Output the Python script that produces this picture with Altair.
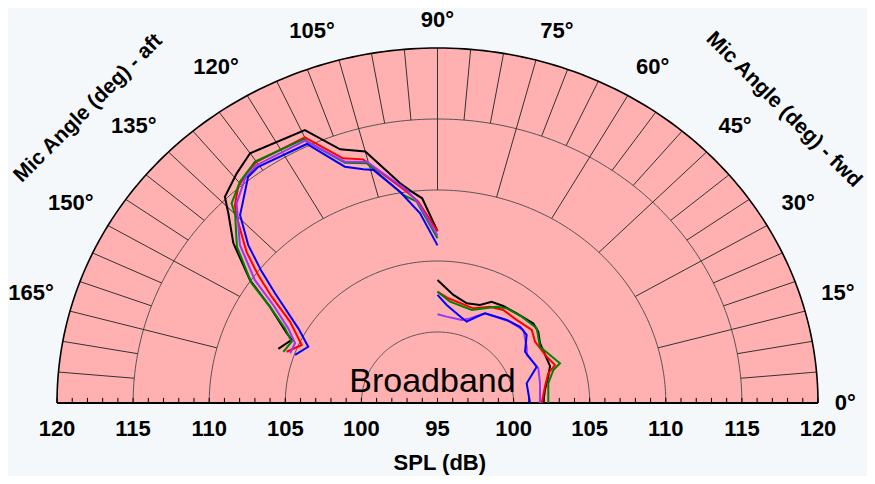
import math
import altair as alt
import pandas as pd

# ---------------- data (angle in degrees, SPL in dB) ----------------
CENTER_SPL = 95
MAX_SPL = 120

series_names = ["black", "red", "green", "purple", "blue"]
series_colors = ["#000000", "#ff0000", "#008000", "#9933ff", "#0000ff"]

# aft branch (90 -> 160 deg)
aft_angle_black = [90, 94, 96.5, 99, 105, 109.7, 114.4, 125, 129.2, 133.9, 135.8, 140, 144.9, 148.4, 153.6, 155.1, 160]
aft_spl_black = [107.1, 109.45, 109.98, 110.67, 113.33, 113.98, 116.1, 116.47, 115.87, 115.15, 114.17, 112.51, 110.06, 107.92, 106.06, 105.56, 106.13]

aft_angle_red = [90, 95.1, 97.7, 105.9, 109.8, 115, 125, 127.8, 130.7, 133.7, 135.2, 139.7, 142.6, 145.5, 149.4, 155.4, 160]
aft_spl_red = [107.1, 109.23, 110.02, 112.84, 113.31, 115.64, 115.73, 115.47, 115.08, 114.27, 113.6, 111.45, 109.83, 108.22, 106.26, 104.81, 105.55]

aft_angle_green = [90, 95.5, 98.7, 105.4, 109.75, 115.4, 125.2, 129.8, 133.9, 135.1, 140.1, 145.4, 148.4, 152.3, 155.7, 160.4]
aft_spl_green = [106.6, 109.24, 109.82, 112.51, 112.98, 115.56, 115.8, 115.28, 114.51, 113.77, 112.18, 109.84, 107.92, 106.32, 105.51, 105.75]

aft_angle_purple = [90, 95.1, 97.7, 105.3, 109.7, 115.2, 125.3, 128.6, 133.2, 139.4, 144.2, 147.4, 151.8, 155.8, 160.1]
aft_spl_purple = [106.8, 109.12, 110.14, 112.62, 113.05, 115.42, 115.54, 115.26, 114.28, 112.1, 109.79, 107.81, 106.12, 105.26, 105.3]

aft_angle_blue = [90, 94.9, 99.4, 104.4, 106.5, 110.1, 115.2, 125.3, 128, 132.9, 134.4, 138.2, 141.3, 144.1, 150.1, 155, 160.1]
aft_spl_blue = [106.1, 108.41, 110.08, 111.94, 112.17, 112.72, 115.16, 115.38, 115.21, 113.88, 113.54, 111.68, 109.8, 108.18, 105.55, 104.37, 104.95]

# fwd branch (90 -> 0 deg)
fwd_angle_black = [90, 82.2, 74.7, 68, 63.5, 57.7, 50.5, 41.7, 37.2, 32, 19.4, 14.3, 7.4, 0]
fwd_spl_black = [103.66, 102.68, 102.28, 102.44, 102.97, 103.08, 103.18, 103.43, 103.31, 102.94, 102.84, 102.51, 102.12, 101.95]

fwd_angle_red = [90, 84.5, 70.6, 63, 56.6, 48.4, 39.7, 34, 24.4, 19.1, 16, 9.2, 0]
fwd_spl_red = [102.84, 102.41, 102.07, 102.61, 102.85, 102.83, 103.05, 102.73, 102.88, 103.17, 102.57, 102.15, 101.85]

fwd_angle_green = [90, 83.4, 71, 60.2, 55.7, 47.7, 38.9, 30.5, 19.2, 17, 10.8, 0]
fwd_spl_green = [102.84, 102.18, 101.93, 102.82, 103.07, 103.22, 103.38, 102.81, 103.52, 102.96, 102.41, 102.28]

fwd_angle_purple = [90, 84.4, 74.8, 70.3, 63.7, 50.3, 42.3, 34, 30, 20.3, 11.7, 0]
fwd_spl_purple = [101.25, 101.11, 101.06, 101.33, 102.05, 102.45, 102.63, 102.07, 101.77, 102.06, 101.88, 101.73]

fwd_angle_blue = [90, 85, 77.5, 71.5, 67, 63.7, 52.1, 44.7, 39.3, 32.1, 21.4, 13.3, 0]
fwd_spl_blue = [102.61, 101.93, 101.35, 101.04, 101.6, 102.05, 102.41, 102.63, 102.57, 101.79, 102.0, 101.02, 101.08]

spl_tick_labels = [120, 115, 110, 105, 100, 95, 100, 105, 110, 115, 120]
angle_ticks = [0, 15, 30, 45, 60, 75, 90, 105, 120, 135, 150, 165]

aft_data = {
    "black": (aft_angle_black, aft_spl_black),
    "red": (aft_angle_red, aft_spl_red),
    "green": (aft_angle_green, aft_spl_green),
    "purple": (aft_angle_purple, aft_spl_purple),
    "blue": (aft_angle_blue, aft_spl_blue),
}
fwd_data = {
    "black": (fwd_angle_black, fwd_spl_black),
    "red": (fwd_angle_red, fwd_spl_red),
    "green": (fwd_angle_green, fwd_spl_green),
    "purple": (fwd_angle_purple, fwd_spl_purple),
    "blue": (fwd_angle_blue, fwd_spl_blue),
}

RMAX = MAX_SPL - CENTER_SPL


def polar(r, deg):
    t = math.radians(deg)
    return r * math.cos(t), r * math.sin(t)


# ---------------- derived tables ----------------
rows = []
for name in series_names:
    for branch, src in (("aft", aft_data), ("fwd", fwd_data)):
        angs, spls = src[name]
        for i, (a, s) in enumerate(zip(angs, spls)):
            x, y = polar(s - CENTER_SPL, a)
            rows.append({"series": name, "branch": branch, "idx": i, "x": x, "y": y})
curves = pd.DataFrame(rows)

semi = pd.DataFrame([{"x": polar(RMAX, a)[0], "y": polar(RMAX, a)[1], "y0": 0.0} for a in range(0, 181)])

circ_rows = []
for ring in [5, 10, 15, 20]:
    for a in range(0, 181):
        x, y = polar(ring, a)
        circ_rows.append({"ring": ring, "idx": a, "x": x, "y": y})
circles = pd.DataFrame(circ_rows)
outer = pd.DataFrame([{"idx": a, "x": polar(RMAX, a)[0], "y": polar(RMAX, a)[1]} for a in range(0, 181)])

spk = []
for a in range(5, 180, 5):
    r0 = 15 if a % 15 == 0 else 20
    x0, y0 = polar(r0, a)
    x1, y1 = polar(RMAX, a)
    spk.append({"x": x0, "y": y0, "x2": x1, "y2": y1})
spokes = pd.DataFrame(spk)

ticks = pd.DataFrame([{"x": float(v), "y": 0.0, "y2": 0.36} for v in range(-RMAX, RMAX + 1)])
base = pd.DataFrame([{"x": -RMAX, "x2": RMAX, "y": 0.0}])

xt = [-RMAX + 5 * i for i in range(len(spl_tick_labels))]
spl_labels = pd.DataFrame({"x": xt, "y": [-1.81] * len(xt), "t": [str(v) for v in spl_tick_labels]})

# angle labels: near edge on an ellipse just outside the rim
lab_l, lab_r, lab_c = [], [], []
for a in angle_ticks:
    t = math.radians(a)
    if a == 90:
        lab_c.append({"x": 0.0, "y": 26.95, "t": f"{a}°"})
        continue
    x = 26.1 * math.cos(t)
    y = 27.1 * math.sin(t) + (0.75 * math.cos(t) ** 2 if a > 0 else 0.0)
    (lab_l if a < 90 else lab_r).append({"x": x, "y": y, "t": f"{a}°"})

FONT = "Liberation Sans"

xs = alt.Scale(domain=[-RMAX, RMAX], nice=False, zero=False)
ys = alt.Scale(domain=[0, RMAX], nice=False, zero=False)


def X(f="x"):
    return alt.X(f"{f}:Q", scale=xs, axis=None)


def Y(f="y"):
    return alt.Y(f"{f}:Q", scale=ys, axis=None)


fill = alt.Chart(semi).mark_area(color="#ffb0b0").encode(x=X(), y=Y(), y2=alt.Y2("y0:Q"))
circ = alt.Chart(circles).mark_line(color="#555555", strokeWidth=1).encode(
    x=X(), y=Y(), detail="ring:N", order=alt.Order("idx:Q"))
outer_l = alt.Chart(outer).mark_line(color="#000000", strokeWidth=1.6).encode(
    x=X(), y=Y(), order=alt.Order("idx:Q"))
spoke_l = alt.Chart(spokes).mark_rule(color="#333333", strokeWidth=1).encode(
    x=X(), y=Y(), x2="x2:Q", y2="y2:Q")
tick_l = alt.Chart(ticks).mark_rule(color="#000000", strokeWidth=1).encode(
    x=X(), y=Y(), y2="y2:Q")
base_l = alt.Chart(base).mark_rule(color="#000000", strokeWidth=2).encode(
    x=X(), x2="x2:Q", y=Y())

curve_layers = []
for name, col in zip(series_names, series_colors):
    curve_layers.append(
        alt.Chart(curves[curves.series == name]).mark_line(color=col, strokeWidth=2).encode(
            x=X(), y=Y(), detail="branch:N", order=alt.Order("idx:Q"))
    )


def text_layer(df, align, size=22, angle=0, weight="bold"):
    kw = dict(align=align, baseline="middle", font=FONT, fontSize=size, color="#000000",
              fontWeight=weight)
    if angle:
        kw["angle"] = angle
    return alt.Chart(pd.DataFrame(df)).mark_text(**kw).encode(x=X(), y=Y(), text="t:N")


texts = [
    text_layer(spl_labels, "center"),
    text_layer(lab_l, "left"),
    text_layer(lab_r, "right"),
    text_layer(lab_c, "center"),
    text_layer([{"x": 0.15, "y": -4.23, "t": "SPL (dB)"}], "center"),
    text_layer([{"x": -0.33, "y": 1.5, "t": "Broadband"}], "center", size=34, weight="normal"),
    text_layer([{"x": -22.95, "y": 20.75, "t": "Mic Angle (deg) - aft"}], "center", size=21, angle=315),
    text_layer([{"x": 22.75, "y": 20.65, "t": "Mic Angle (deg) - fwd"}], "center", size=21, angle=45),
]

chart = alt.layer(fill, circ, spoke_l, outer_l, tick_l, base_l, *curve_layers, *texts).properties(
    width=761,
    height=355,
    autosize=alt.AutoSizeParams(type="none"),
    padding={"left": 49, "top": 40, "right": 49, "bottom": 73},
    background="#f4f8fb",
).configure_view(stroke=None)

chart.save("out.html", embed_options={"renderer": "svg", "actions": False})
